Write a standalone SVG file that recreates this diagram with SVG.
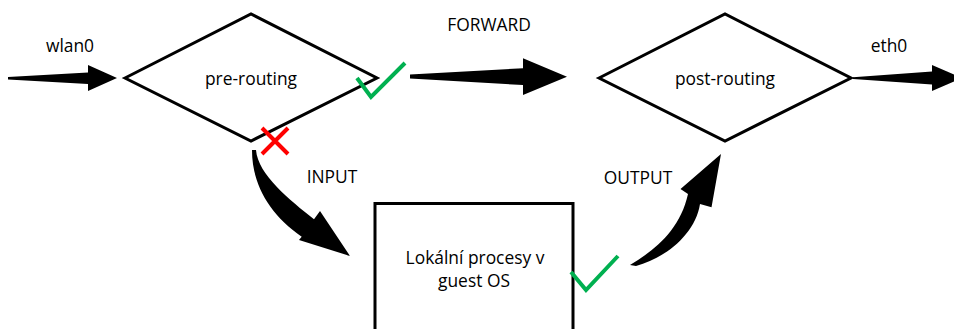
<svg xmlns="http://www.w3.org/2000/svg" width="954" height="329" viewBox="0 0 954 329">
<style>
.t{font-family:"Open Sans","Noto Sans","Liberation Sans",sans-serif;font-size:17.4px;fill:#000;text-anchor:middle}
.shape{fill:#fff;stroke:#000;stroke-width:3;stroke-linejoin:miter}
.arr{fill:#000;stroke:none}
.ok{fill:none;stroke:#00B050;stroke-width:4;stroke-linecap:butt;stroke-linejoin:miter}
.no{fill:none;stroke:#FF0000;stroke-width:4}
</style>
<rect width="954" height="329" fill="#fff"/>
<g id="connectors">
  <path class="arr" d="M8,77 L88,72.5 L88,65 L117,78 L88,91 L88,84 L8,79.5 Z"/>
  <path class="arr" d="M410,74.5 L523,68.3 L523,58.3 L567,76.7 L523,95 L523,85 L410,78.5 Z"/>
  <path class="arr" d="M853,77.3 L932,71.5 L932,65 L962,78 L932,91 L932,84.5 L853,79 Z"/>
  <path class="arr" d="M252,150 C252,185 270,215 301.7,236.7 L299,240 L350,256 L320,211 L314,219.3 C290,200 258,175 256,150 Z"/>
  <path class="arr" d="M630,265 C655,250 680,230 688,194 L680.5,189 L721,154 L711.5,207.3 L700,204 C695,235 665,258 636,266 Z"/>
</g>
<g id="wlan0"><text class="t" x="70" y="52">wlan0</text></g>
<g id="pre-routing">
  <polygon class="shape" points="125,78 251,14 377,78 251,141"/>
  <text class="t" x="251" y="85">pre-routing</text>
</g>
<g id="forward"><text class="t" x="489" y="31">FORWARD</text></g>
<g id="post-routing">
  <polygon class="shape" points="599,78 725,14 851,78 725,141"/>
  <text class="t" x="725" y="85">post-routing</text>
</g>
<g id="eth0"><text class="t" x="889" y="52">eth0</text></g>
<g id="input"><text class="t" x="332" y="183">INPUT</text></g>
<g id="output"><text class="t" x="638" y="184">OUTPUT</text></g>
<g id="local">
  <rect class="shape" x="375" y="203.5" width="198" height="140"/>
  <text class="t" x="475" y="264">Lokální procesy v</text>
  <text class="t" x="474" y="287">guest OS</text>
</g>
<g id="marks">
  <path class="ok" d="M357,78 L371,97 L405,63"/>
  <path class="ok" d="M571,272 L586,290 L618,256"/>
  <path class="no" d="M262,128 L288,154 M288,128 L262,154"/>
</g>
</svg>
